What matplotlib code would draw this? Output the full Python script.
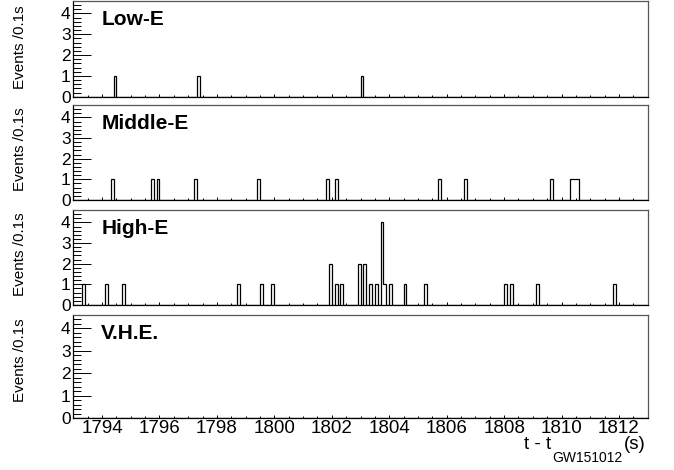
import numpy as np
import matplotlib.pyplot as plt
from matplotlib.ticker import MultipleLocator

plt.rcParams['font.family'] = ['Liberation Sans', 'DejaVu Sans']

# start of each filled 0.1 s bin and its number of events
low_t = [1794.4, 1797.3, 1803.0]
low_n = [1, 1, 1]
mid_t = [1794.3, 1795.7, 1795.9, 1797.2, 1799.4, 1801.8, 1802.1,
         1805.7, 1806.6, 1809.6, 1810.3, 1810.4, 1810.5]
mid_n = [1, 1, 1, 1, 1, 1, 1, 1, 1, 1, 1, 1, 1]
high_t = [1793.3, 1794.1, 1794.7, 1798.7, 1799.5, 1799.9, 1801.9, 1802.1,
          1802.3, 1802.9, 1803.1, 1803.3, 1803.5, 1803.7, 1803.8, 1804.0,
          1804.5, 1805.2, 1808.0, 1808.2, 1809.1, 1811.8]
high_n = [1, 1, 1, 1, 1, 1, 2, 1,
          1, 2, 2, 1, 1, 4, 1, 1,
          1, 1, 1, 1, 1, 1]
vhe_t = []
vhe_n = []

names = ['Low-E', 'Middle-E', 'High-E', 'V.H.E.']
ylab_pos = [0.52, 0.53, 0.53, 0.56]

W, H = 674, 470
fig = plt.figure(figsize=(W / 100, H / 100), dpi=100)

rects = [[0.1088, 0.7943, 0.8522, 0.2036],
         [0.1088, 0.5745, 0.8522, 0.2021],
         [0.1088, 0.3511, 0.8522, 0.2021],
         [0.1088, 0.1100, 0.8522, 0.2198]]

edges = np.round(np.arange(1793.0, 1813.0001, 0.1), 1)
data = [(low_t, low_n), (mid_t, mid_n), (high_t, high_n), (vhe_t, vhe_n)]

for i, (rect, (t, n), name) in enumerate(zip(rects, data, names)):
    ax = fig.add_axes(rect)
    ax.hist(np.array(t, dtype=float) + 0.05, bins=edges, weights=n,
            histtype='step', color='black', lw=0.9)
    ax.set_xlim(1793, 1813)
    ax.set_ylim(0, 4.6)

    ax.xaxis.set_major_locator(MultipleLocator(2))
    ax.xaxis.set_minor_locator(MultipleLocator(0.5))
    ax.yaxis.set_major_locator(MultipleLocator(1))
    ax.yaxis.set_minor_locator(MultipleLocator(0.2))
    ax.tick_params(axis='x', which='major', direction='in', length=2.5,
                   width=0.7, top=False, labelsize=13.5, pad=1.5,
                   labelbottom=(i == 3))
    ax.tick_params(axis='x', which='minor', direction='in', length=1.2,
                   width=0.7, top=False)
    ax.tick_params(axis='y', which='major', direction='in', length=13,
                   width=0.7, right=False, labelsize=12.5, pad=2)
    ax.tick_params(axis='y', which='minor', direction='in', length=6,
                   width=0.7, right=False)

    for s in ['left', 'bottom']:
        ax.spines[s].set_color('black')
        ax.spines[s].set_linewidth(0.9)
    for s in ['top', 'right']:
        ax.spines[s].set_color('#555555')
        ax.spines[s].set_linewidth(0.9)

    ax.set_ylabel('Events /0.1s', fontsize=11)
    ax.yaxis.set_label_coords(-0.0806, ylab_pos[i])

    ax.annotate(name, xy=(0, 1), xycoords='axes fraction',
                xytext=(28, -24.5), textcoords='offset pixels',
                fontsize=15, fontweight='bold', ha='left', va='baseline')

# x axis title: t - t_GW151012 (s)
fig.canvas.draw()
r = fig.canvas.get_renderer()
base = (H - 449) / H
sub_base = (H - 462.5) / H
t3 = fig.text(646 / W, base, '(s)', ha='right', va='baseline', fontsize=13.5)
bb = t3.get_window_extent(r)
t2 = fig.text((bb.x0 - 2) / W, sub_base, 'GW151012', ha='right',
              va='baseline', fontsize=10)
bb = t2.get_window_extent(r)
fig.text((bb.x0 - 1) / W, base, 't - t', ha='right', va='baseline',
         fontsize=13.5)

fig.savefig('out.png', dpi=100)
